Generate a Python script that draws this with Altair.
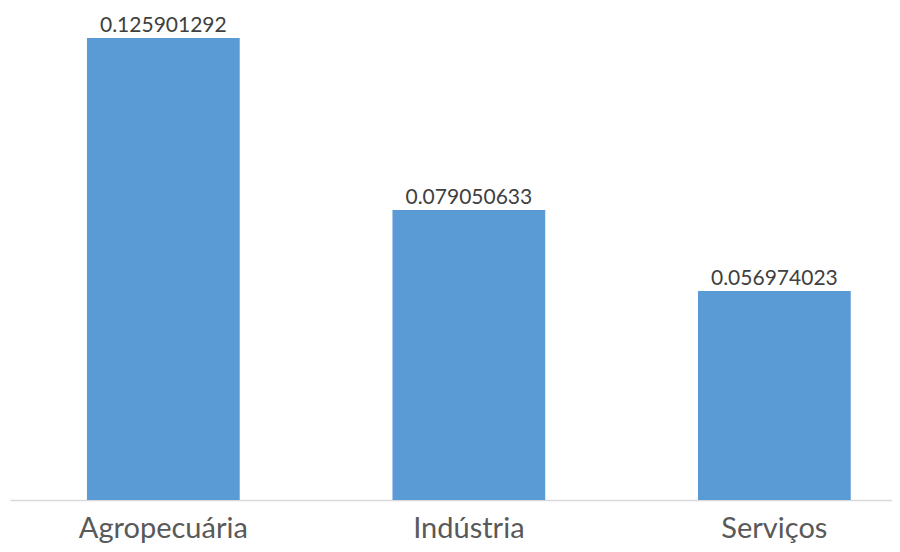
import altair as alt
import pandas as pd

categories = ["Agropecuária", "Indústria", "Serviços"]
values = [0.125901292, 0.079050633, 0.056974023]
labels = ["0.125901292", "0.079050633", "0.056974023"]

df = pd.DataFrame({"cat": categories, "val": values, "lab": labels})

x = alt.X("cat:N", sort=categories, title=None,
          scale=alt.Scale(paddingInner=0.5, paddingOuter=0.1935, align=0.651),
          axis=alt.Axis(labelAngle=0, labelFont="Lato", labelFontSize=29,
                        labelColor="#595959", ticks=False, tickSize=0,
                        labelBaseline="alphabetic", labelPadding=37,
                        domainColor="#D9D9D9", domainWidth=1.5, grid=False))
y = alt.Y("val:Q", title=None, scale=alt.Scale(domain=[0, 0.13408], nice=False),
          axis=None)

bars = alt.Chart(df).mark_bar(color="#5B9BD5").encode(x=x, y=y)
text = alt.Chart(df).mark_text(font="Lato", fontSize=21, color="#404040",
                               baseline="alphabetic", dy=-6).encode(
    x=alt.X("cat:N", sort=categories), y="val:Q", text="lab:N")

chart = (bars + text).properties(
    width=882, height=492,
    padding={"left": 2, "top": 0, "right": 0, "bottom": 44},
    autosize=alt.AutoSizeParams(type="none"),
    background="white",
).configure_view(strokeWidth=0, stroke=None)

chart.save("out.html", embed_options={"renderer": "svg", "actions": False})
